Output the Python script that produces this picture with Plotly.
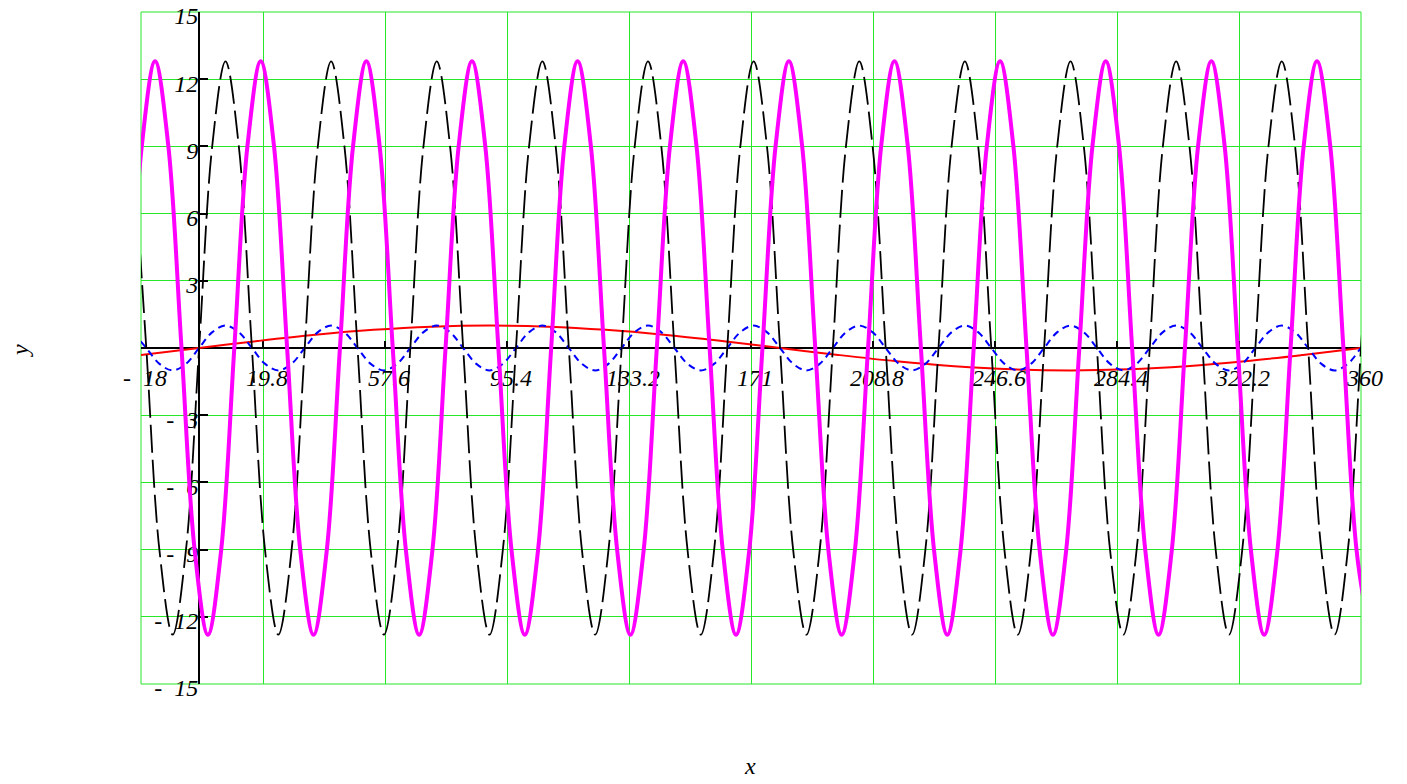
import plotly.graph_objects as go

# ---------------- data ----------------
# x sample positions for the black dashed and blue dotted curves
x_a = [
    -20.45, -16.36, -12.27, -8.18, -4.09,
    0.0, 4.09, 8.18, 12.27, 16.36, 20.45, 24.55, 28.64,
    32.73, 36.82, 40.91, 45.0, 49.09, 53.18, 57.27, 61.36,
    65.45, 69.55, 73.64, 77.73, 81.82, 85.91, 90.0, 94.09,
    98.18, 102.27, 106.36, 110.45, 114.55, 118.64, 122.73, 126.82,
    130.91, 135.0, 139.09, 143.18, 147.27, 151.36, 155.45, 159.55,
    163.64, 167.73, 171.82, 175.91, 180.0, 184.09, 188.18, 192.27,
    196.36, 200.45, 204.55, 208.64, 212.73, 216.82, 220.91, 225.0,
    229.09, 233.18, 237.27, 241.36, 245.45, 249.55, 253.64, 257.73,
    261.82, 265.91, 270.0, 274.09, 278.18, 282.27, 286.36, 290.45,
    294.55, 298.64, 302.73, 306.82, 310.91, 315.0, 319.09, 323.18,
    327.27, 331.36, 335.45, 339.55, 343.64, 347.73, 351.82, 355.91,
    360.0, 364.09,
]

black_y = [
    9.05, 0, -9.05, -12.8, -9.05,
    0, 9.05, 12.8, 9.05, 0, -9.05, -12.8, -9.05,
    0, 9.05, 12.8, 9.05, 0, -9.05, -12.8, -9.05,
    0, 9.05, 12.8, 9.05, 0, -9.05, -12.8, -9.05,
    0, 9.05, 12.8, 9.05, 0, -9.05, -12.8, -9.05,
    0, 9.05, 12.8, 9.05, 0, -9.05, -12.8, -9.05,
    0, 9.05, 12.8, 9.05, 0, -9.05, -12.8, -9.05,
    0, 9.05, 12.8, 9.05, 0, -9.05, -12.8, -9.05,
    0, 9.05, 12.8, 9.05, 0, -9.05, -12.8, -9.05,
    0, 9.05, 12.8, 9.05, 0, -9.05, -12.8, -9.05,
    0, 9.05, 12.8, 9.05, 0, -9.05, -12.8, -9.05,
    0, 9.05, 12.8, 9.05, 0, -9.05, -12.8, -9.05,
    0, 9.05,
]

blue_y = [
    0.71, 0, -0.71, -1.0, -0.71,
    0, 0.71, 1.0, 0.71, 0, -0.71, -1.0, -0.71,
    0, 0.71, 1.0, 0.71, 0, -0.71, -1.0, -0.71,
    0, 0.71, 1.0, 0.71, 0, -0.71, -1.0, -0.71,
    0, 0.71, 1.0, 0.71, 0, -0.71, -1.0, -0.71,
    0, 0.71, 1.0, 0.71, 0, -0.71, -1.0, -0.71,
    0, 0.71, 1.0, 0.71, 0, -0.71, -1.0, -0.71,
    0, 0.71, 1.0, 0.71, 0, -0.71, -1.0, -0.71,
    0, 0.71, 1.0, 0.71, 0, -0.71, -1.0, -0.71,
    0, 0.71, 1.0, 0.71, 0, -0.71, -1.0, -0.71,
    0, 0.71, 1.0, 0.71, 0, -0.71, -1.0, -0.71,
    0, 0.71, 1.0, 0.71, 0, -0.71, -1.0, -0.71,
    0, 0.71,
]

# x sample positions for the thick magenta curve
x_m = [
    -21.82, -17.73, -13.64, -9.55, -5.45, -1.36, 2.73, 6.82,
    10.91, 15.0, 19.09, 23.18, 27.27, 31.36, 35.45, 39.55,
    43.64, 47.73, 51.82, 55.91, 60.0, 64.09, 68.18, 72.27,
    76.36, 80.45, 84.55, 88.64, 92.73, 96.82, 100.91, 105.0,
    109.09, 113.18, 117.27, 121.36, 125.45, 129.55, 133.64, 137.73,
    141.82, 145.91, 150.0, 154.09, 158.18, 162.27, 166.36, 170.45,
    174.55, 178.64, 182.73, 186.82, 190.91, 195.0, 199.09, 203.18,
    207.27, 211.36, 215.45, 219.55, 223.64, 227.73, 231.82, 235.91,
    240.0, 244.09, 248.18, 252.27, 256.36, 260.45, 264.55, 268.64,
    272.73, 276.82, 280.91, 285.0, 289.09, 293.18, 297.27, 301.36,
    305.45, 309.55, 313.64, 317.73, 321.82, 325.91, 330.0, 334.09,
    338.18, 342.27, 346.36, 350.45, 354.55, 358.64, 362.73,
]

magenta_y = [
    0, 9.05, 12.8, 9.05, 0, -9.05, -12.8, -9.05,
    0, 9.05, 12.8, 9.05, 0, -9.05, -12.8, -9.05,
    0, 9.05, 12.8, 9.05, 0, -9.05, -12.8, -9.05,
    0, 9.05, 12.8, 9.05, 0, -9.05, -12.8, -9.05,
    0, 9.05, 12.8, 9.05, 0, -9.05, -12.8, -9.05,
    0, 9.05, 12.8, 9.05, 0, -9.05, -12.8, -9.05,
    0, 9.05, 12.8, 9.05, 0, -9.05, -12.8, -9.05,
    0, 9.05, 12.8, 9.05, 0, -9.05, -12.8, -9.05,
    0, 9.05, 12.8, 9.05, 0, -9.05, -12.8, -9.05,
    0, 9.05, 12.8, 9.05, 0, -9.05, -12.8, -9.05,
    0, 9.05, 12.8, 9.05, 0, -9.05, -12.8, -9.05,
    0, 9.05, 12.8, 9.05, 0, -9.05, -12.8,
]

# slow red curve
x_r = [-18, 0, 18, 36, 54, 72, 90, 108, 126, 144, 162, 180,
       198, 216, 234, 252, 270, 288, 306, 324, 342, 360]
red_y = [-0.31, 0, 0.31, 0.59, 0.81, 0.95, 1.0, 0.95, 0.81, 0.59, 0.31, 0,
         -0.31, -0.59, -0.81, -0.95, -1.0, -0.95, -0.81, -0.59, -0.31, 0]

# axis ticks
NB = "\u00a0"
x_tickvals = [-18, 19.8, 57.6, 95.4, 133.2, 171, 208.8, 246.6, 284.4, 322.2, 360]
x_ticktext = ["-" + NB + NB + "18", "19.8", "57.6", "95.4", "133.2", "171", "208.8",
              "246.6", "284.4", "322.2", "360"]
y_tickvals = [-15, -12, -9, -6, -3, 0, 3, 6, 9, 12, 15]
y_ticktext = ["-" + NB + NB + "15", "-" + NB + NB + "12", "-" + NB + NB + "9",
              "-" + NB + NB + "6", "-" + NB + NB + "3", "", "3", "6", "9", "12", "15"]

X_MIN, X_MAX = -18, 360
Y_MIN, Y_MAX = -15, 15

# ---------------- figure ----------------
GRID = "rgb(40,230,40)"
FONT = dict(family="Liberation Serif, Times New Roman, serif", size=24,
            color="black", style="italic")

fig = go.Figure()
fig.add_trace(go.Scatter(x=x_r, y=red_y, mode="lines",
                         line=dict(color="#ff0000", width=2, shape="spline")))
fig.add_trace(go.Scatter(x=x_a, y=blue_y, mode="lines",
                         line=dict(color="#0000ff", width=2, dash="7px,5px",
                                   shape="spline")))
fig.add_trace(go.Scatter(x=x_a, y=black_y, mode="lines",
                         line=dict(color="#000000", width=1.8, dash="28px,7px",
                                   shape="spline")))
fig.add_trace(go.Scatter(x=x_m, y=magenta_y, mode="lines",
                         line=dict(color="#ff00ff", width=4, shape="spline")))

x_cross = (0 - X_MIN) / (X_MAX - X_MIN)
y_cross = (0 - Y_MIN) / (Y_MAX - Y_MIN)

fig.update_layout(
    width=1407, height=784, autosize=False,
    margin=dict(l=141, r=46, t=12, b=100, autoexpand=False),
    plot_bgcolor="white", paper_bgcolor="white",
    showlegend=False, hovermode=False,
    xaxis=dict(range=[X_MIN, X_MAX], tickmode="array",
               tickvals=x_tickvals, ticktext=x_ticktext,
               showgrid=True, gridcolor=GRID, gridwidth=1, griddash="solid",
               zeroline=False, showline=True, linecolor="black", linewidth=2,
               anchor="free", position=y_cross, side="bottom",
               ticks="inside", ticklen=6, tickwidth=1.5, tickcolor="black",
               tickfont=FONT, ticklabelstandoff=8, ticklabelshift=4,
               ticklabeloverflow="allow", automargin=False, layer="below traces"),
    yaxis=dict(range=[Y_MIN, Y_MAX], tickmode="array",
               tickvals=y_tickvals, ticktext=y_ticktext,
               showgrid=True, gridcolor=GRID, gridwidth=1, griddash="solid",
               zeroline=False, showline=True, linecolor="black", linewidth=2,
               anchor="free", position=x_cross, side="left",
               ticks="inside", ticklen=8, tickwidth=1.5, tickcolor="black",
               tickfont=FONT, ticklabelstandoff=-5, ticklabelshift=4,
               ticklabeloverflow="allow", automargin=False,
               layer="below traces"),
    shapes=[dict(type="rect", xref="paper", yref="paper", x0=0, x1=1, y0=0, y1=1,
                 line=dict(color=GRID, width=1), layer="below")],
    annotations=[
        dict(text="x", xref="paper", yref="paper", x=0.4992, y=-0.122,
             xanchor="center", yanchor="middle", showarrow=False, font=FONT),
        dict(text="y", xref="paper", yref="paper", x=-0.0992, y=0.497,
             xanchor="center", yanchor="middle", showarrow=False, font=FONT,
             textangle=-90),
    ],
)

fig.write_html("out.html", config={"displayModeBar": False},
               post_script="document.body.style.margin='0px';")
